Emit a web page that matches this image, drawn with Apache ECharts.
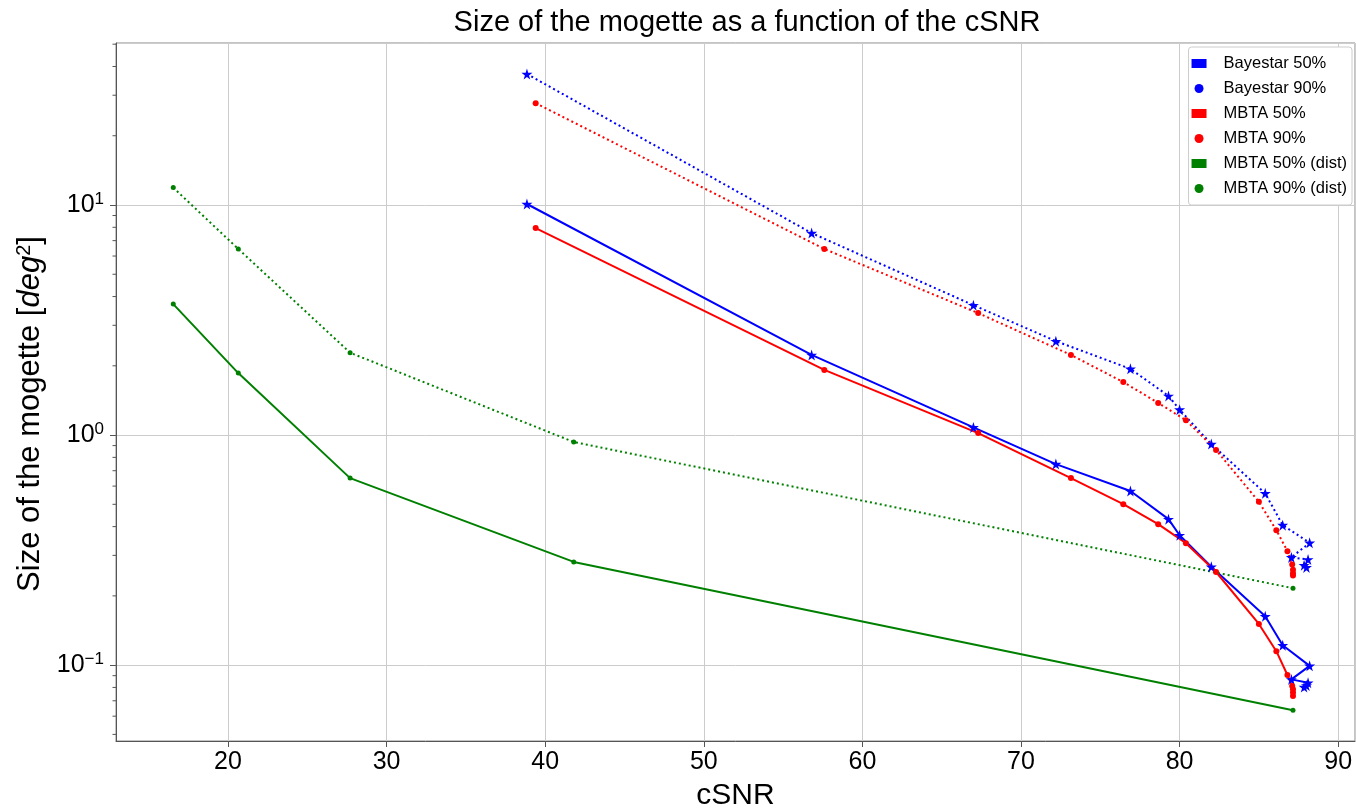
<!DOCTYPE html>
<html>
<head>
<meta charset="utf-8">
<script src="https://cdn.jsdelivr.net/npm/echarts@6/dist/echarts.min.js"></script>
<style>
  html, body { margin: 0; padding: 0; background: #fff; }
  #chart { width: 1356px; height: 809px; }
</style>
</head>
<body>
<div id="chart"></div>
<script>
// cSNR values
const cSNRBayestar = [38.85, 56.8, 67.0, 72.2, 76.9, 79.3, 80.0, 82.0, 85.4, 86.5, 88.2, 87.05, 88.1, 87.85, 88.0];
const cSNRMbta = [39.4, 57.6, 67.3, 73.15, 76.45, 78.65, 80.4, 82.3, 85.0, 86.1, 86.8, 87.1, 87.15, 87.15, 87.15];
const cSNRDist = [16.55, 20.65, 27.7, 41.8, 87.15];

// size of the mogette (deg^2)
const bayestar50 = [10.1, 2.23, 1.08, 0.748, 0.571, 0.431, 0.367, 0.2675, 0.163, 0.122, 0.0993, 0.0867, 0.0838, 0.0803, 0.0815];
const bayestar90 = [37.1, 7.55, 3.67, 2.56, 1.94, 1.48, 1.29, 0.914, 0.558, 0.406, 0.340, 0.294, 0.288, 0.272, 0.266];
const mbta50 = [7.94, 1.92, 1.02, 0.650, 0.501, 0.41, 0.339, 0.254, 0.151, 0.115, 0.0906, 0.0811, 0.0785, 0.0760, 0.0735];
const mbta90 = [27.7, 6.44, 3.39, 2.23, 1.70, 1.38, 1.16, 0.861, 0.513, 0.386, 0.313, 0.274, 0.260, 0.251, 0.245];
const dist50 = [3.71, 1.86, 0.65, 0.281, 0.0637];
const dist90 = [11.9, 6.44, 2.28, 0.933, 0.216];

// minor ticks of the log axis
const minorTicks = [0.05, 0.06, 0.07, 0.08, 0.09, 0.2, 0.3, 0.4, 0.5, 0.6, 0.7, 0.8, 0.9,
  2, 3, 4, 5, 6, 7, 8, 9, 20, 30, 40, 50];

const xMin = 12.94, xMax = 91.06;
const yMin = 0.0468, yMax = 50.6;

const star = 'path://M50,0 L61,35 L98,35 L68,57 L79,91 L50,70 L21,91 L32,57 L2,35 L39,35 Z';
const font = 'Liberation Sans, Arial, sans-serif';

function zip(xs, ys) {
  return xs.map((x, i) => [x, ys[i]]);
}

function lineSeries(name, xs, ys, color, dotted, symbol, size) {
  return {
    name: name,
    type: 'line',
    data: zip(xs, ys),
    symbol: symbol,
    symbolSize: size,
    showAllSymbol: true,
    itemStyle: { color: color },
    lineStyle: { color: color, width: 2, type: dotted ? [2, 3] : 'solid' },
    emphasis: { disabled: true },
    animation: false
  };
}

let chart = echarts.init(document.getElementById('chart'));
chart.setOption({
  animation: false,
  title: {
    text: 'Size of the mogette as a function of the cSNR',
    left: 747,
    top: 8,
    textAlign: 'center',
    padding: 0,
    textStyle: { fontFamily: font, fontSize: 29, fontWeight: 'normal', color: '#000' }
  },
  legend: {
    orient: 'vertical',
    right: 4,
    top: 47,
    padding: [8, 5, 8, 3],
    itemGap: 8,
    itemWidth: 15,
    itemHeight: 9,
    borderColor: '#cccccc',
    borderWidth: 1,
    borderRadius: 3,
    backgroundColor: '#fff',
    textStyle: { fontFamily: font, fontSize: 16.5, color: '#000', padding: [0, 0, 0, 12] },
    data: [
      { name: 'Bayestar 50%', icon: 'rect' },
      { name: 'Bayestar 90%', icon: 'circle' },
      { name: 'MBTA 50%', icon: 'rect' },
      { name: 'MBTA 90%', icon: 'circle' },
      { name: 'MBTA 50% (dist)', icon: 'rect' },
      { name: 'MBTA 90% (dist)', icon: 'circle' }
    ]
  },
  grid: {
    left: 116,
    right: 1,
    top: 43,
    bottom: 68,
    outerBoundsMode: 'none',
    show: true,
    borderColor: '#888',
    borderWidth: 1
  },
  xAxis: {
    type: 'value',
    min: xMin,
    max: xMax,
    splitNumber: 8,
    name: 'cSNR',
    nameLocation: 'middle',
    nameGap: 40,
    nameTextStyle: { fontFamily: font, fontSize: 30, color: '#000' },
    axisLine: { lineStyle: { color: '#555' } },
    axisTick: { length: 6, lineStyle: { color: '#555' } },
    axisLabel: {
      fontFamily: font, fontSize: 25, color: '#000', margin: 9,
      showMinLabel: false, showMaxLabel: false,
      formatter: v => (Math.abs(v % 10) < 1e-6 ? String(v) : '')
    },
    splitLine: { lineStyle: { color: '#cccccc' } }
  },
  yAxis: {
    type: 'log',
    logBase: 10,
    min: yMin,
    max: yMax,
    name: 'Size of the mogette [{i|deg}{s|2}]',
    nameLocation: 'middle',
    nameRotate: 90,
    nameGap: 65,
    nameTextStyle: {
      fontFamily: font, fontSize: 31, color: '#000',
      padding: [0, 44, 0, 0],
      rich: {
        i: { fontFamily: font, fontSize: 31, fontStyle: 'italic', color: '#000' },
        s: { fontFamily: font, fontSize: 20, color: '#000', verticalAlign: 'top', lineHeight: 16 }
      }
    },
    axisLine: { show: true, lineStyle: { color: '#555' } },
    axisTick: { length: 6, lineStyle: { color: '#555' } },
    axisLabel: {
      fontFamily: font, fontSize: 25, color: '#000', margin: 12,
      showMinLabel: false, showMaxLabel: false,
      formatter: function (v) {
        const l = Math.log10(v);
        const e = Math.round(l);
        if (Math.abs(l - e) > 1e-6) return '';
        return '{b|10}{s|' + (e < 0 ? '\u2212' + (-e) : e) + '}';
      },
      rich: {
        b: { fontFamily: font, fontSize: 25, color: '#000', lineHeight: 28 },
        s: { fontFamily: font, fontSize: 17, color: '#000', verticalAlign: 'top', lineHeight: 12 }
      }
    },
    splitLine: { lineStyle: { color: '#cccccc' } }
  },
  series: [
    lineSeries('Bayestar 50%', cSNRBayestar, bayestar50, '#0000ff', false, star, 11),
    lineSeries('Bayestar 90%', cSNRBayestar, bayestar90, '#0000ff', true, star, 11),
    lineSeries('MBTA 50%', cSNRMbta, mbta50, '#ff0000', false, 'circle', 6),
    lineSeries('MBTA 90%', cSNRMbta, mbta90, '#ff0000', true, 'circle', 6),
    lineSeries('MBTA 50% (dist)', cSNRDist, dist50, '#008000', false, 'circle', 5),
    lineSeries('MBTA 90% (dist)', cSNRDist, dist90, '#008000', true, 'circle', 5),
    {
      // minor ticks on the log axis
      type: 'custom',
      data: minorTicks,
      silent: true,
      clip: false,
      renderItem: function (params, api) {
        const p = api.coord([xMin, api.value(0)]);
        return {
          type: 'line',
          shape: { x1: p[0] - 3.5, y1: p[1], x2: p[0], y2: p[1] },
          style: { stroke: '#555', lineWidth: 1 }
        };
      },
      encode: { y: 0 },
      tooltip: { show: false }
    }
  ]
});
</script>
</body>
</html>
